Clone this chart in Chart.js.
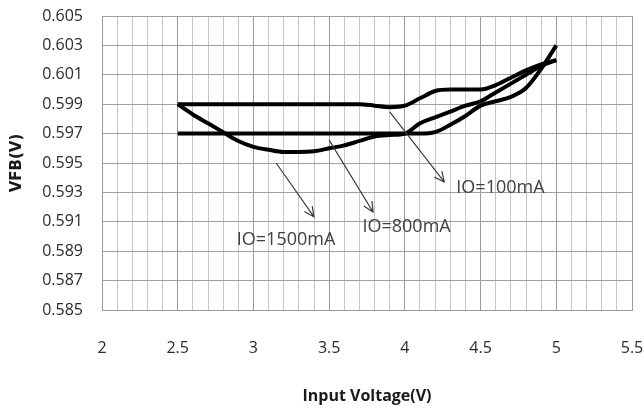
<!DOCTYPE html>
<html>
<head>
<meta charset="UTF-8">
<title>VFB vs Input Voltage</title>
<script src="https://cdn.jsdelivr.net/npm/chart.js"></script>
<style>
  * { margin: 0; padding: 0; }
  body { background: #fff; }
  #wrap { width: 644px; height: 408px; }
</style>
</head>
<body>
<div id="wrap"><canvas id="chart" width="644" height="408"></canvas></div>
<script>
const inputVoltage = [2.5, 2.6, 2.7, 2.8, 2.9, 3.0, 3.1, 3.2, 3.3, 3.4, 3.5, 3.6, 3.7,
                      3.8, 3.9, 4.0, 4.1, 4.2, 4.3, 4.4, 4.5, 4.6, 4.7, 4.8, 4.9, 5.0];

const vfb100 = [0.5990, 0.5990, 0.5990, 0.5990, 0.5990, 0.5990, 0.5990, 0.5990, 0.5990, 0.5990, 0.5990, 0.5990, 0.5990,
                0.5989, 0.5988, 0.5989, 0.5994, 0.5999, 0.6000, 0.6000, 0.6000, 0.6003, 0.6008, 0.6013, 0.6017, 0.6020];
const vfb800 = [0.5970, 0.5970, 0.5970, 0.5970, 0.5970, 0.5970, 0.5970, 0.5970, 0.5970, 0.5970, 0.5970, 0.5970, 0.5970,
                0.5970, 0.5970, 0.5970, 0.5970, 0.5971, 0.5976, 0.5982, 0.5989, 0.5992, 0.5995, 0.6001, 0.6014, 0.6030];
const vfb1500 = [0.5990, 0.5983, 0.5977, 0.5971, 0.5965, 0.5961, 0.5959, 0.59575, 0.59575, 0.5958, 0.5960, 0.5962, 0.5965,
                 0.5968, 0.5969, 0.5970, 0.5977, 0.5981, 0.5985, 0.5989, 0.5992, 0.5998, 0.6004, 0.6010, 0.6016, 0.6020];

const seriesNames = ['IO=100mA', 'IO=800mA', 'IO=1500mA'];
const seriesValues = [vfb100, vfb800, vfb1500];

// callouts: arrow start/end and label anchor, in axis units
const callouts = [
  { text: 'IO=100mA',  from: [3.90, 0.59847], to: [4.26, 0.59371], at: [4.34, 0.59330] },
  { text: 'IO=800mA',  from: [3.50, 0.59656], to: [3.79, 0.59167], at: [3.72, 0.59068] },
  { text: 'IO=1500mA', from: [3.15, 0.59500], to: [3.40, 0.59133], at: [2.89, 0.58977] }
];

const isMajor = v => Math.round(v * 10) % 5 === 0;

const calloutPlugin = {
  id: 'callouts',
  afterDatasetsDraw(chart) {
    const { ctx, scales: { x, y } } = chart;
    ctx.save();
    ctx.strokeStyle = '#3c3c3c';
    ctx.lineWidth = 1.2;
    callouts.forEach(c => {
      const x1 = x.getPixelForValue(c.from[0]), y1 = y.getPixelForValue(c.from[1]);
      const x2 = x.getPixelForValue(c.to[0]), y2 = y.getPixelForValue(c.to[1]);
      ctx.beginPath();
      ctx.moveTo(x1, y1);
      ctx.lineTo(x2, y2);
      const a = Math.atan2(y2 - y1, x2 - x1);
      const len = 11, spread = 0.45;
      ctx.moveTo(x2 - len * Math.cos(a - spread), y2 - len * Math.sin(a - spread));
      ctx.lineTo(x2, y2);
      ctx.lineTo(x2 - len * Math.cos(a + spread), y2 - len * Math.sin(a + spread));
      ctx.stroke();

      ctx.fillStyle = '#404040';
      ctx.font = '18px "Open Sans"';
      ctx.textAlign = 'left';
      ctx.textBaseline = 'middle';
      ctx.fillText(c.text, x.getPixelForValue(c.at[0]), y.getPixelForValue(c.at[1]));
    });
    ctx.restore();
  }
};

new Chart(document.getElementById('chart'), {
  type: 'line',
  data: {
    labels: inputVoltage,
    datasets: seriesValues.map((vals, i) => ({
      label: seriesNames[i],
      data: vals.map((v, j) => ({ x: inputVoltage[j], y: v })),
      borderColor: '#000',
      borderWidth: 4,
      pointRadius: 0,
      fill: false,
      cubicInterpolationMode: 'monotone'
    }))
  },
  options: {
    responsive: false,
    animation: false,
    layout: { padding: { top: 16, right: 12, left: 0, bottom: 0 } },
    plugins: { legend: { display: false }, tooltip: { enabled: false } },
    scales: {
      x: {
        type: 'linear',
        min: 2,
        max: 5.5,
        // fixed axis box, and no extra edge padding from the tick labels
        afterFit: s => { s.height = 98; s.paddingLeft = 0; s.paddingRight = 0; },
        border: { color: '#999' },
        grid: {
          drawTicks: false,
          color: c => isMajor(c.tick.value) ? '#9a9a9a' : '#c6c6c6'
        },
        ticks: {
          stepSize: 0.1,
          autoSkip: false,
          maxRotation: 0,
          padding: 29,
          color: '#2b2b2b',
          font: { family: 'Open Sans', size: 16 },
          callback: v => isMajor(v) ? String(Math.round(v * 10) / 10) : ''
        },
        title: {
          display: true,
          text: 'Input Voltage(V)',
          color: '#1a1a1a',
          font: { family: 'Open Sans', size: 16, weight: 'bold' },
          padding: { top: 0, bottom: 2 }
        }
      },
      y: {
        min: 0.585,
        max: 0.605,
        afterFit: s => { s.width = 102; s.paddingTop = 0; s.paddingBottom = 0; },
        border: { color: '#999' },
        grid: { drawTicks: false, color: '#a0a0a0' },
        ticks: {
          stepSize: 0.002,
          padding: 19,
          color: '#2b2b2b',
          font: { family: 'Open Sans', size: 16 },
          callback: v => v.toFixed(3)
        },
        title: {
          display: true,
          text: 'VFB(V)',
          color: '#1a1a1a',
          font: { family: 'DejaVu Sans', size: 15, weight: 'bold' },
          padding: { top: 8, bottom: 0 }
        }
      }
    }
  },
  plugins: [calloutPlugin]
});
</script>
</body>
</html>
